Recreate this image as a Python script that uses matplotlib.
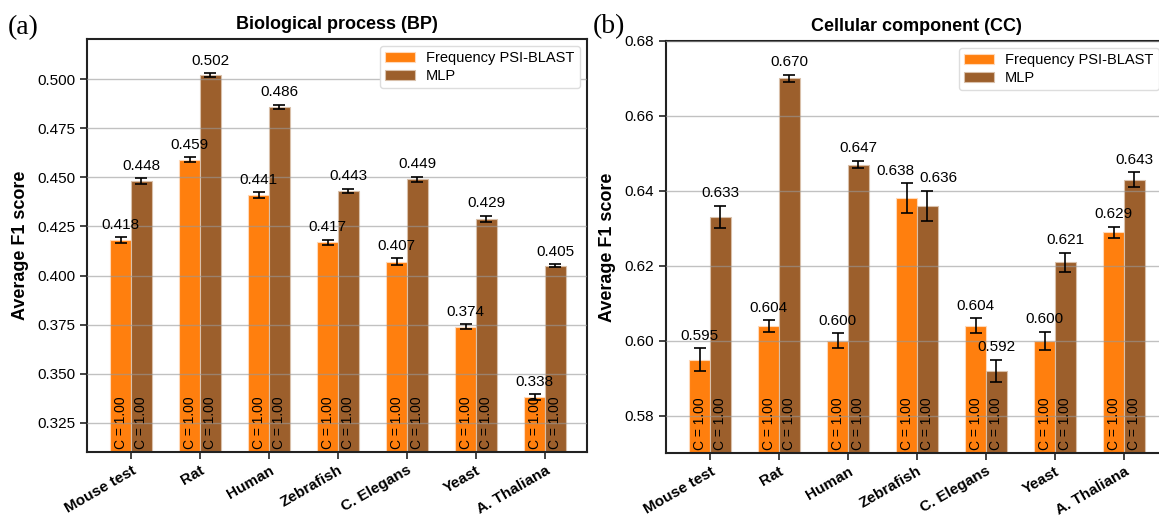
import numpy as np
import matplotlib.pyplot as plt

plt.rcParams['font.family'] = ['Liberation Sans', 'DejaVu Sans']

# dados
species = ["Mouse test", "Rat", "Human", "Zebrafish", "C. Elegans", "Yeast", "A. Thaliana"]

bp_freq = [0.418, 0.459, 0.441, 0.417, 0.407, 0.374, 0.338]
bp_mlp = [0.448, 0.502, 0.486, 0.443, 0.449, 0.429, 0.405]
bp_freq_err = [0.0015, 0.0012, 0.0015, 0.0013, 0.0017, 0.0013, 0.0015]
bp_mlp_err = [0.0015, 0.0010, 0.0010, 0.0012, 0.0012, 0.0015, 0.0008]

cc_freq = [0.595, 0.604, 0.600, 0.638, 0.604, 0.600, 0.629]
cc_mlp = [0.633, 0.670, 0.647, 0.636, 0.592, 0.621, 0.643]
cc_freq_err = [0.003, 0.0015, 0.002, 0.004, 0.002, 0.0025, 0.0015]
cc_mlp_err = [0.003, 0.0010, 0.001, 0.004, 0.003, 0.0025, 0.002]

c_freq = [1.00] * 7
c_mlp = [1.00] * 7

orange = '#ff7f0e'
brown = '#9c5f2c'
width = 0.30


def draw_panel(ax, freq, mlp, freq_err, mlp_err, title, ylim, yticks, fmt_tick):
    x = np.arange(len(species))
    ax.bar(x - width / 2, freq, width, color=orange, edgecolor='#ffd9b8',
           linewidth=0.8, label='Frequency PSI-BLAST', zorder=2)
    ax.bar(x + width / 2, mlp, width, color=brown, edgecolor='#d9c0aa',
           linewidth=0.8, label='MLP', zorder=2)
    ax.errorbar(x - width / 2, freq, yerr=freq_err, fmt='none', ecolor='black',
                elinewidth=1.2, capsize=4, capthick=1.2, zorder=4)
    ax.errorbar(x + width / 2, mlp, yerr=mlp_err, fmt='none', ecolor='black',
                elinewidth=1.2, capsize=4, capthick=1.2, zorder=4)

    # valores em cima das barras (afasta um pouco quando as duas ficam na mesma altura)
    span = ylim[1] - ylim[0]
    for i in range(len(species)):
        top_f = freq[i] + freq_err[i]
        top_m = mlp[i] + mlp_err[i]
        dx = 8 if abs(top_f - top_m) < 0.06 * span else 0
        ax.annotate(f"{freq[i]:.3f}", (x[i] - width / 2, top_f), xytext=(-dx, 4),
                    textcoords='offset points', ha='center', va='bottom', fontsize=11, zorder=5)
        ax.annotate(f"{mlp[i]:.3f}", (x[i] + width / 2, top_m), xytext=(dx, 4),
                    textcoords='offset points', ha='center', va='bottom', fontsize=11, zorder=5)

    # C = 1.00 dentro das barras
    for xi, c in zip(x - width / 2, c_freq):
        ax.annotate(f"C = {c:.2f}", (xi, ylim[0]), xytext=(0, 2), textcoords='offset points',
                    rotation=90, ha='center', va='bottom', fontsize=10, zorder=5)
    for xi, c in zip(x + width / 2, c_mlp):
        ax.annotate(f"C = {c:.2f}", (xi, ylim[0]), xytext=(0, 2), textcoords='offset points',
                    rotation=90, ha='center', va='bottom', fontsize=10, zorder=5)

    ax.set_xlim(-0.64, 6.61)
    ax.set_ylim(*ylim)
    ax.set_yticks(yticks)
    ax.set_yticklabels([fmt_tick.format(t) for t in yticks], fontsize=11)
    ax.set_xticks(x)
    ax.set_xticklabels(species, rotation=30, ha='right', rotation_mode='anchor',
                       fontsize=11, fontweight='bold')
    ax.grid(axis='y', color='#999999', alpha=0.6, linewidth=1.0, zorder=3)
    ax.set_axisbelow(False)
    ax.set_ylabel('Average F1 score', fontsize=13, fontweight='bold', labelpad=6)
    ax.set_title(title, fontsize=13, fontweight='bold', pad=7)
    for s in ax.spines.values():
        s.set_color('#222222')
        s.set_linewidth(1.5)
    ax.tick_params(axis='both', length=5, width=1.2, color='#222222')
    ax.tick_params(axis='x', pad=3)
    ax.legend(loc='upper right', fontsize=10.5, framealpha=1.0, edgecolor='#dddddd',
              borderpad=0.35, handlelength=2.0, labelspacing=0.25)


fig = plt.figure(figsize=(11.59, 5.17), dpi=100)
ax1 = fig.add_axes([87 / 1159, 65 / 517, 500 / 1159, 413 / 517])
ax2 = fig.add_axes([666 / 1159, 64 / 517, 500 / 1159, 412 / 517])

draw_panel(ax1, bp_freq, bp_mlp, bp_freq_err, bp_mlp_err, 'Biological process (BP)',
           (0.3102, 0.5204), [0.325, 0.350, 0.375, 0.400, 0.425, 0.450, 0.475, 0.500], "{:.3f}")
draw_panel(ax2, cc_freq, cc_mlp, cc_freq_err, cc_mlp_err, 'Cellular component (CC)',
           (0.5701, 0.680), [0.58, 0.60, 0.62, 0.64, 0.66, 0.68], "{:.2f}")

fig.text(8 / 1159, 1 - 28 / 517, '(a)', family='Liberation Serif', fontsize=20, va='center')
fig.text(593 / 1159, 1 - 27 / 517, '(b)', family='Liberation Serif', fontsize=20, va='center')

fig.savefig('out.png', dpi=100)
